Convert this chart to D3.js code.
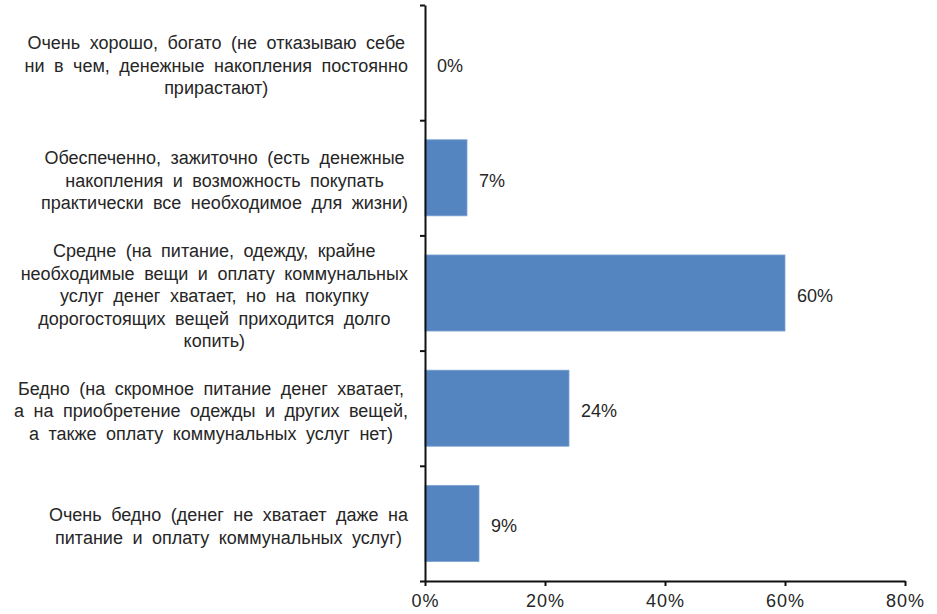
<!DOCTYPE html>
<html>
<head>
<meta charset="utf-8">
<script src="https://cdn.jsdelivr.net/npm/d3@7"></script>
<style>
  html, body { margin: 0; padding: 0; background: #ffffff; }
  svg { display: block; font-family: "Liberation Sans", Arial, sans-serif; }
</style>
</head>
<body>
<svg id="chart" width="937" height="614"></svg>
<script>
// ---- data ----
const categories = [
  "Очень хорошо, богато",
  "Обеспеченно, зажиточно",
  "Средне",
  "Бедно",
  "Очень бедно"
];
const categoryLines = [
  ["Очень хорошо, богато (не отказываю себе", "ни в чем, денежные накопления постоянно", "прирастают)"],
  ["Обеспеченно, зажиточно (есть денежные", "накопления и возможность покупать", "практически все необходимое для жизни)"],
  ["Средне (на питание, одежду, крайне", "необходимые вещи и оплату коммунальных", "услуг денег хватает, но на покупку", "дорогостоящих вещей приходится долго", "копить)"],
  ["Бедно (на скромное питание денег хватает,", "а на приобретение одежды и других вещей,", "а также оплату коммунальных услуг нет)"],
  ["Очень бедно (денег не хватает даже на", "питание и оплату коммунальных услуг)"]
];
const values = [0, 7, 60, 24, 9];
const xTicks = [0, 20, 40, 60, 80];

// ---- layout ----
const svg = d3.select("#chart");
const mLeft = 425, mRight = 905, mTop = 5, mBottom = 581;
const fontSize = 18;
const textColor = "#262626";

const x = d3.scaleLinear().domain([0, 80]).range([mLeft, mRight]);
const y = d3.scaleBand().domain(categories).range([mTop, mBottom]).paddingInner(0.34).paddingOuter(0.17);
const yEdges = d3.scaleLinear().domain([0, categories.length]).range([mTop, mBottom]);

// bars
svg.append("g").selectAll("rect")
  .data(values)
  .join("rect")
  .attr("x", x(0))
  .attr("y", (d, i) => y(categories[i]))
  .attr("width", d => x(d) - x(0))
  .attr("height", y.bandwidth())
  .attr("fill", "#5585c0")
  .attr("stroke", "#7aa0d0")
  .attr("stroke-width", 0.8);

// value labels
svg.append("g").selectAll("text")
  .data(values)
  .join("text")
  .attr("x", d => x(d) + 12)
  .attr("y", (d, i) => y(categories[i]) + y.bandwidth() / 2 + 3)
  .attr("dominant-baseline", "central")
  .attr("font-size", fontSize)
  .attr("fill", textColor)
  .text(d => d + "%");

// y axis (category boundaries)
const yAxis = svg.append("g")
  .attr("transform", `translate(${mLeft},0)`)
  .call(d3.axisLeft(yEdges).tickValues(d3.range(categories.length + 1)).tickFormat("").tickSize(5).tickSizeOuter(0));
yAxis.select(".domain").attr("stroke", "#111").attr("stroke-width", 2);
yAxis.selectAll(".tick line").attr("stroke", "#111").attr("stroke-width", 2);

// x axis
const xAxis = svg.append("g")
  .attr("transform", `translate(0,${mBottom})`)
  .call(d3.axisBottom(x).tickValues(xTicks).tickFormat(d => d + "%").tickSize(5).tickSizeOuter(0));
xAxis.select(".domain").attr("stroke", "#111").attr("stroke-width", 2);
xAxis.selectAll(".tick line").attr("stroke", "#111").attr("stroke-width", 2);
xAxis.selectAll(".tick text")
  .attr("font-size", fontSize)
  .attr("font-family", "Liberation Sans, Arial, sans-serif")
  .attr("fill", textColor)
  .attr("letter-spacing", 1)
  .attr("dy", "1.0em");

// category labels: multi-line, centred within a block right-aligned to the axis
const lineH = 22.5;
const labelRight = mLeft - 17;
const labels = svg.append("g");
categoryLines.forEach((lines, i) => {
  const cy = y(categories[i]) + y.bandwidth() / 2 + 3;
  const g = labels.append("g");
  const texts = g.selectAll("text")
    .data(lines)
    .join("text")
    .attr("font-size", fontSize)
    .attr("fill", textColor)
    .attr("word-spacing", 4.5)
    .attr("text-anchor", "middle")
    .attr("dominant-baseline", "central")
    .attr("y", (d, j) => cy + (j - (lines.length - 1) / 2) * lineH)
    .text(d => d);
  let maxW = 0;
  texts.each(function () { maxW = Math.max(maxW, this.getComputedTextLength()); });
  texts.attr("x", labelRight - maxW / 2);
});
</script>
</body>
</html>
